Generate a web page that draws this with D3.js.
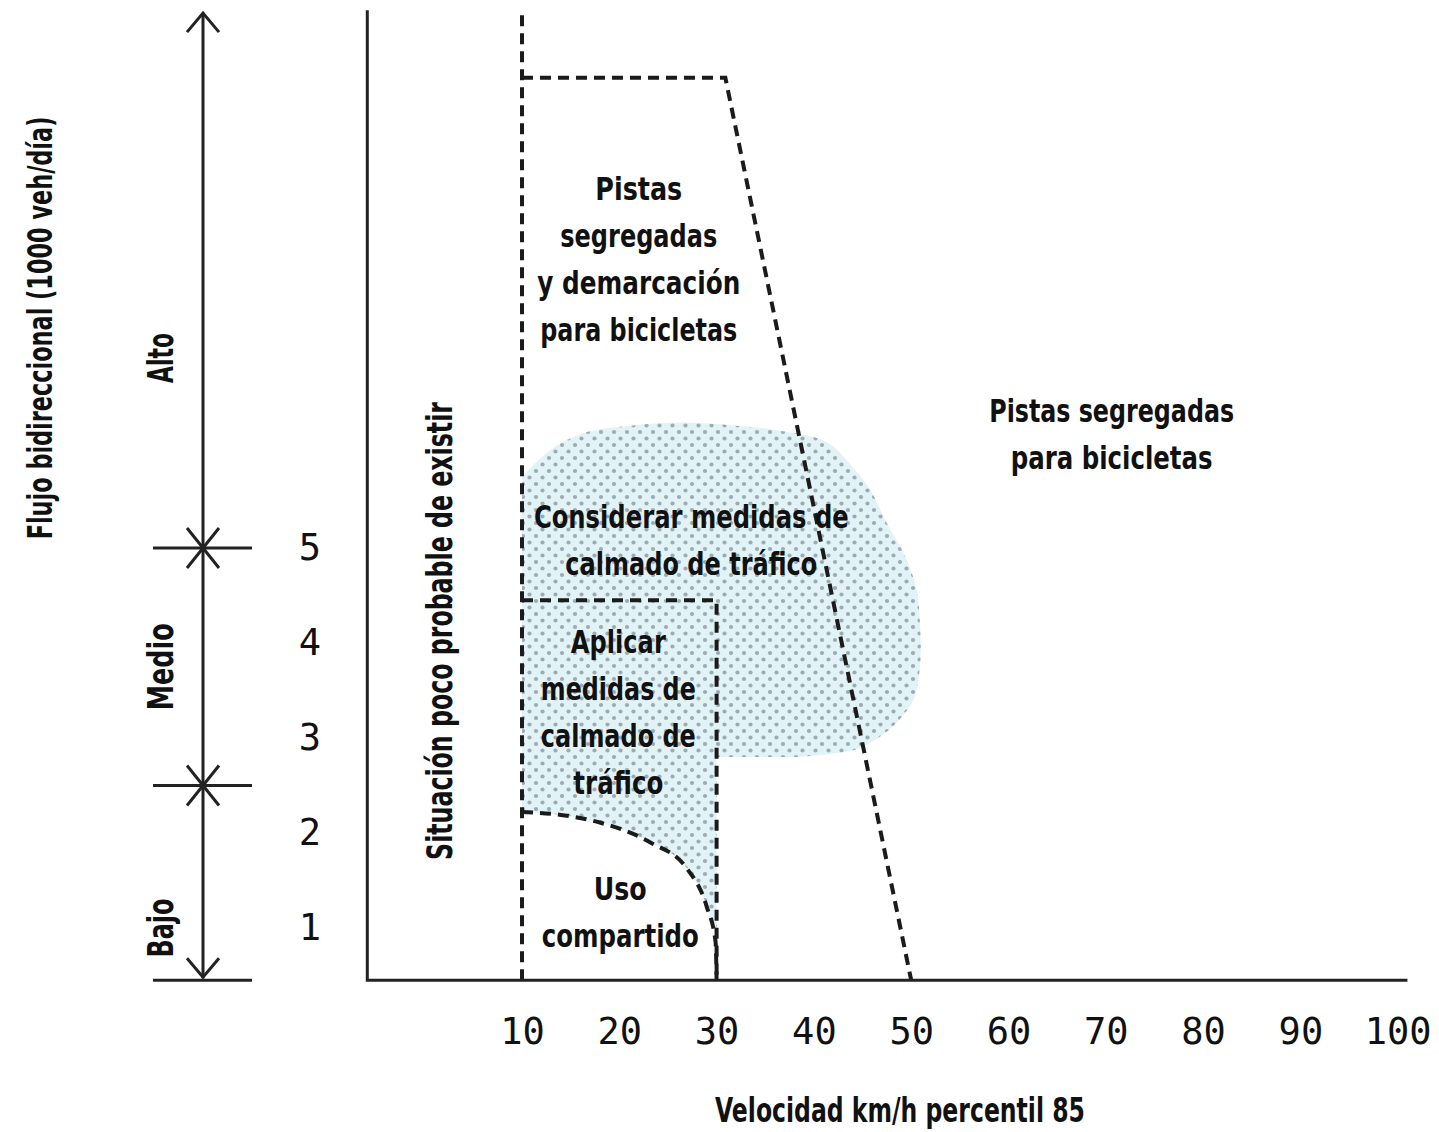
<!DOCTYPE html>
<html>
<head>
<meta charset="utf-8">
<script src="https://cdn.jsdelivr.net/npm/d3@7"></script>
<style>
  body { margin: 0; background: #fff; }
  svg { display: block; }
  .lbl { font-family: "Liberation Sans Narrow", "DejaVu Sans Condensed", "Roboto", sans-serif; font-weight: bold; fill: #111; }
  .num { font-family: "DejaVu Sans Mono", monospace; fill: #111; }
</style>
</head>
<body>
<div id="chart"></div>
<script>
// ---- data (x: km/h percentil 85, y: 1000 veh/dia) ----
const xTicks = [10, 20, 30, 40, 50, 60, 70, 80, 90, 100]
const yTicks = [1, 2, 3, 4, 5]
const levelNames = ["Bajo", "Medio", "Alto"]
const levelLabelAt = [1.0, 3.75, 7.0]
const levelBreaks = [2.5, 5]
const yFloor = 0.45
const yTop = 10.63
const xLeft = -5.9
const xRight = 101

// zone boundaries
const lineAt10 = [[10, yFloor], [10, 10.68]]
const trapezoid = [[10, 9.95], [30.9, 9.95], [50, yFloor]]
const applyBox = [[10, 4.45], [30, 4.45], [30, yFloor]]
const sharedArc = [[10, 2.22], [14, 2.19], [18, 2.11], [23.2, 1.9], [27, 1.62], [29, 1.22], [29.9, 0.85], [30, yFloor]]
const calmBlob = [[10, 5.75], [12.9, 6.03], [16.3, 6.21], [21.4, 6.29], [26.5, 6.32], [31.7, 6.29],
    [36.2, 6.24], [41.2, 6.12], [44.0, 5.85], [45.8, 5.61], [47.5, 5.26], [49.2, 4.95], [50.5, 4.59],
    [50.9, 4.2], [50.9, 3.75], [50.2, 3.40], [48.1, 3.12], [45.8, 2.95], [44.0, 2.87], [38.6, 2.80]]
const blobFoot = [[30, 2.80], [30, yFloor], [10, yFloor]]

// zone texts
const zoneTexts = [
    {lines: ["Pistas", "segregadas", "y demarcación", "para bicicletas"], x: 22.0, y: 8.66, w: [87, 157, 203, 197]},
    {lines: ["Pistas segregadas", "para bicicletas"], x: 70.6, y: 6.33, w: [245, 202]},
    {lines: ["Considerar medidas de", "calmado de tráfico"], x: 27.4, y: 5.21, w: [315, 252]},
    {lines: ["Aplicar", "medidas de", "calmado de", "tráfico"], x: 19.9, y: 3.89, w: [95, 155, 155, 90]},
    {lines: ["Uso", "compartido"], x: 20.1, y: 1.29, w: [53, 157]}
]

const W = 1439, H = 1132
const svg = d3.select("#chart").append("svg").attr("width", W).attr("height", H)

const x = d3.scaleLinear().domain([0, 100]).range([424.7, 1397.7])
const y = d3.scaleLinear().domain([0, 10]).range([1023, 73])

const defs = svg.append("defs")
const pat = defs.append("pattern").attr("id", "dots")
    .attr("patternUnits", "userSpaceOnUse").attr("width", 13).attr("height", 13)
pat.append("rect").attr("width", 13).attr("height", 13).attr("fill", "#e2f3f8")
pat.append("circle").attr("cx", 3).attr("cy", 3).attr("r", 2.1).attr("fill", "#9cabaf")
pat.append("circle").attr("cx", 9.5).attr("cy", 9.5).attr("r", 2.1).attr("fill", "#9cabaf")

const lin = d3.line().x(d => x(d[0])).y(d => y(d[1]))
const smooth = d3.line().x(d => x(d[0])).y(d => y(d[1])).curve(d3.curveCatmullRom)
const arcLine = d3.line().x(d => x(d[0])).y(d => y(d[1])).curve(d3.curveMonotoneX)

// shaded area: blob + box part, then white under the arc
let blobPath = smooth(calmBlob) + lin(blobFoot).replace("M", "L") + "Z"
svg.append("path").attr("d", blobPath).attr("fill", "url(#dots)")
svg.append("path")
    .attr("d", arcLine(sharedArc) + "L" + x(10) + "," + y(yFloor) + "Z")
    .attr("fill", "#fff")

// dashed boundaries
const dash = g => g.attr("fill", "none").attr("stroke", "#1b1b1b")
    .attr("stroke-width", 4).attr("stroke-dasharray", "11,7")
svg.append("path").attr("d", lin(lineAt10)).call(dash)
svg.append("path").attr("d", lin(trapezoid)).call(dash)
svg.append("path").attr("d", lin(applyBox)).call(dash)
svg.append("path").attr("d", arcLine(sharedArc)).call(dash)

// main axes
const axisStroke = g => g.attr("fill", "none").attr("stroke", "#222").attr("stroke-width", 3)
svg.append("path").attr("d", lin([[xLeft, 10.66], [xLeft, yFloor], [xRight, yFloor]])).call(axisStroke)

const xAxis = d3.axisBottom(x).tickValues(xTicks).tickSize(0).tickPadding(37)
svg.append("g").attr("transform", `translate(0,${y(yFloor)})`).call(xAxis)
    .call(g => g.select(".domain").remove())
    .selectAll("text").attr("class", "num").attr("fill", null).style("font-size", "37px")

// flow level scale on the left
const ax = 203
const lvl = svg.append("g")
lvl.append("line").attr("x1", ax).attr("x2", ax).attr("y1", y(yTop)).attr("y2", y(yFloor) - 2).call(axisStroke)
lvl.append("path").attr("d", `M${ax - 16},${y(yTop) + 19}L${ax},${y(yTop)}L${ax + 16},${y(yTop) + 19}`).call(axisStroke)
lvl.append("path").attr("d", `M${ax - 16},${y(yFloor) - 22}L${ax},${y(yFloor) - 3}L${ax + 16},${y(yFloor) - 22}`).call(axisStroke)
lvl.selectAll(".hmark").data(levelBreaks.concat([yFloor])).join("line")
    .attr("x1", 153).attr("x2", 252).attr("y1", d => y(d)).attr("y2", d => y(d)).call(axisStroke)
lvl.selectAll(".xmark").data(levelBreaks).join("path")
    .attr("d", d => `M${ax - 16},${y(d) - 20}L${ax + 16},${y(d) + 20}M${ax + 16},${y(d) - 20}L${ax - 16},${y(d) + 20}`)
    .call(axisStroke)

const yAxis = d3.axisLeft(y).tickValues(yTicks).tickSize(0).tickPadding(0)
svg.append("g").attr("transform", "translate(310,0)").call(yAxis)
    .call(g => g.select(".domain").remove())
    .selectAll("text").attr("class", "num").attr("fill", null).attr("x", 0)
    .attr("text-anchor", "middle").style("font-size", "37px")

// text squeezed to a given length with a horizontal scale
function label(str, px, py, len, size, rot) {
    const t = svg.append("text").attr("class", "lbl")
        .attr("text-anchor", "middle").style("font-size", size + "px").text(str)
    const k = len / t.node().getComputedTextLength()
    t.attr("transform", `translate(${px},${py}) rotate(${rot || 0}) scale(${k},1)`)
    return t
}

levelNames.forEach((d, i) => label(d, 173, y(levelLabelAt[i]), [59, 87, 50][i], 35, -90))

label("Flujo bidireccional (1000 veh/día)", 52, 328, 423, 34, -90)
label("Velocidad km/h percentil 85", 900, 1122, 370, 33)
label("Situación poco probable de existir", 452, 631, 458, 36, -90)

const lineH = 47
zoneTexts.forEach(b => {
    b.lines.forEach((t, i) => label(t, x(b.x), y(b.y) + i * lineH, b.w[i], 32))
})
</script>
</body>
</html>
